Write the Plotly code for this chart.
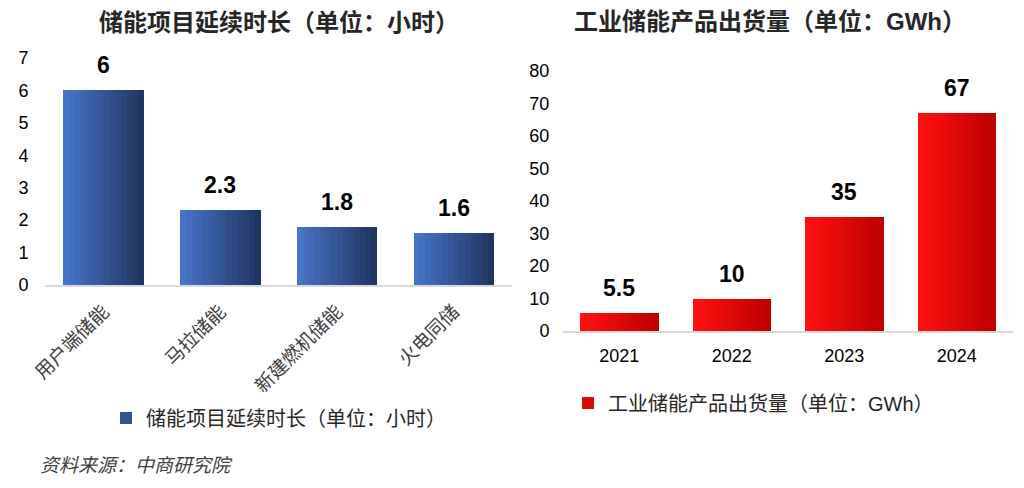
import plotly.graph_objects as go

# data
dur_cats = ["用户端储能", "马拉储能", "新建燃机储能", "火电同储"]
dur_vals = [6, 2.3, 1.8, 1.6]
dur_name = "储能项目延续时长（单位：小时）"

ship_years = ["2021", "2022", "2023", "2024"]
ship_vals = [5.5, 10, 35, 67]
ship_name = "工业储能产品出货量（单位：GWh）"

source_text = "资料来源：中商研究院"

CJK = "Noto Sans CJK SC"
NUM = "Liberation Sans, Noto Sans CJK SC"


def mix(c1, c2, t):
    return "rgb(%d,%d,%d)" % tuple(round(a + (b - a) * t) for a, b in zip(c1, c2))


# fake a left-to-right gradient by stacking thin bar slices
def gradient_bars(fig, cats, vals, c_left, c_right, width, xa, ya, legend, name, n=14):
    step = width / n
    for i in range(n):
        fig.add_trace(go.Bar(
            x=cats, y=vals,
            width=step + 0.004,
            offset=-width / 2 + i * step,
            marker=dict(color=mix(c_left, c_right, i / (n - 1)), line_width=0),
            name=name,
            showlegend=(i == n // 2),
            legend=legend,
            xaxis=xa, yaxis=ya,
            hoverinfo="skip",
        ))


fig = go.Figure()

gradient_bars(fig, dur_cats, dur_vals, (70, 116, 198), (32, 54, 98), 0.685,
              "x", "y", "legend", dur_name)
gradient_bars(fig, ship_years, ship_vals, (255, 16, 16), (190, 0, 0), 0.69,
              "x2", "y2", "legend2", ship_name)

annotations = []
# value labels (x given as category index so "2021" is not read as a position)
for i, v in enumerate(dur_vals):
    annotations.append(dict(x=i, y=v, xref="x", yref="y", text=f"<b>{v:g}</b>",
                            showarrow=False, yanchor="bottom", yshift=10,
                            font=dict(family=NUM, size=23, color="#000000")))
for i, v in enumerate(ship_vals):
    annotations.append(dict(x=i, y=v, xref="x2", yref="y2", text=f"<b>{v:g}</b>",
                            showarrow=False, yanchor="bottom", yshift=10,
                            font=dict(family=NUM, size=23, color="#000000")))

# titles
annotations.append(dict(x=0.272, y=1 - 20 / 488, xref="paper", yref="paper",
                        text="<b>" + dur_name + "</b>", showarrow=False,
                        xanchor="center", yanchor="middle",
                        font=dict(family=CJK, size=24, color="#262626")))
annotations.append(dict(x=0.752, y=1 - 22 / 488, xref="paper", yref="paper",
                        text="<b>" + ship_name + "</b>", showarrow=False,
                        xanchor="center", yanchor="middle",
                        font=dict(family="Liberation Sans, " + CJK, size=24, color="#262626")))
# source
annotations.append(dict(x=38 / 1024, y=1 - 463 / 488, xref="paper", yref="paper",
                        text="<i>" + source_text + "</i>", showarrow=False,
                        xanchor="left", yanchor="middle",
                        font=dict(family=CJK, size=19, color="#404040")))

axis_x = dict(showline=True, linecolor="#d9d9d9", linewidth=2, ticks="outside",
              tickcolor="rgba(0,0,0,0)", showgrid=False, zeroline=False,
              automargin=False, type="category", range=[-0.5, 3.5])
axis_y = dict(showline=False, showgrid=False, zeroline=False, ticks="outside",
              tickcolor="rgba(0,0,0,0)", automargin=False)

fig.update_layout(
    width=1024, height=488,
    margin=dict(l=0, r=0, t=0, b=0, autoexpand=False),
    paper_bgcolor="white", plot_bgcolor="white",
    barmode="overlay",
    bargap=0,
    xaxis=dict(axis_x, domain=[45 / 1024, 512 / 1024], anchor="y",
               tickangle=-45, ticklen=6,
               tickfont=dict(family=CJK, size=19, color="#404040")),
    yaxis=dict(axis_y, domain=[1 - 285 / 488, 1 - 58 / 488], anchor="x",
               range=[0, 7], dtick=1, ticklen=12,
               tickfont=dict(family=NUM, size=18, color="#000000")),
    xaxis2=dict(axis_x, domain=[563 / 1024, 1013 / 1024], anchor="y2",
                ticklen=7,
                tickfont=dict(family=NUM, size=18, color="#000000")),
    yaxis2=dict(axis_y, domain=[1 - 331 / 488, 1 - 71 / 488], anchor="x2",
                range=[0, 80], dtick=10, ticklen=9,
                tickfont=dict(family=NUM, size=18, color="#000000")),
    legend=dict(x=106 / 1024, y=1 - 418 / 488, xanchor="left", yanchor="middle",
                orientation="h", itemwidth=30,
                font=dict(family=CJK, size=20, color="#262626")),
    legend2=dict(x=568 / 1024, y=1 - 403 / 488, xanchor="left", yanchor="middle",
                 orientation="h", itemwidth=30,
                 font=dict(family="Liberation Sans, " + CJK, size=20, color="#262626")),
    annotations=annotations,
)

# drop the browser's default body margin so the figure sits at the page corner
fig.write_html("out.html", config={"displayModeBar": False},
               post_script="document.body.style.margin='0';")
